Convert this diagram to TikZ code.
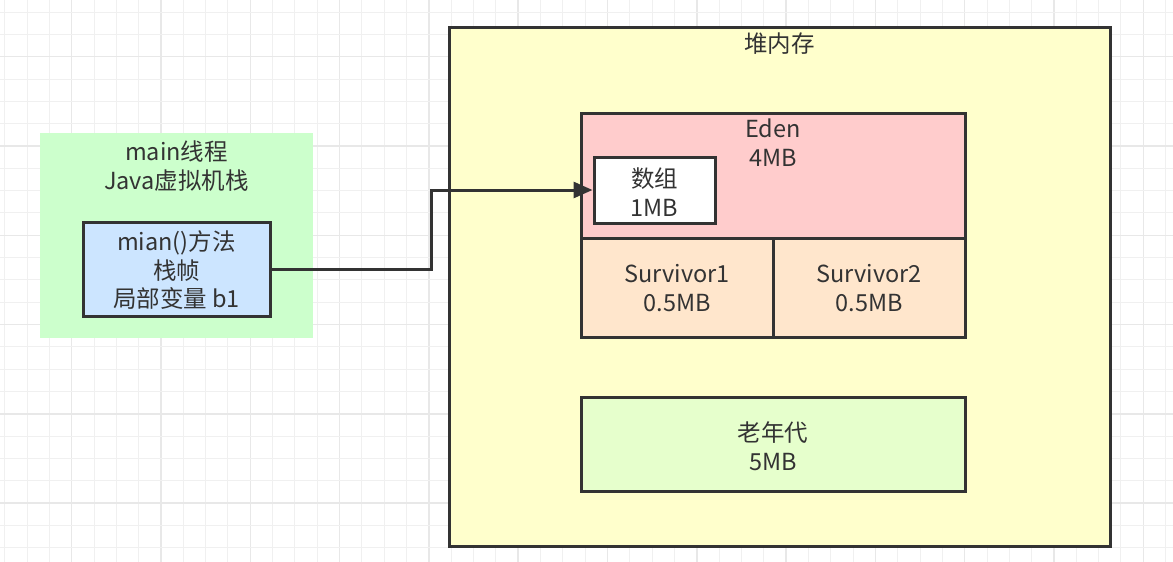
\documentclass[tikz,border=0pt]{standalone}
\usepackage{fontspec}
\setmainfont{Noto Sans CJK SC}
\usetikzlibrary{arrows.meta}
\definecolor{ink}{HTML}{333333}
\definecolor{gthin}{HTML}{F0F0F0}
\definecolor{gthick}{HTML}{E8E8E8}
\definecolor{stackgreen}{HTML}{CCFFCC}
\definecolor{frameblue}{HTML}{CCE5FF}
\definecolor{heapyellow}{HTML}{FFFFCC}
\definecolor{edenred}{HTML}{FFCCCC}
\definecolor{survorange}{HTML}{FFE6CC}
\definecolor{oldgreen}{HTML}{E6FFCC}
\tikzset{
  box/.style={draw=ink, line width=3pt, inner sep=0pt},
  lbl/.style={text=ink, align=center, font=\fontsize{23.5}{28.5}\selectfont, inner sep=0pt},
  conn/.style={draw=ink, line width=3pt, -{Triangle[length=19pt,width=16pt]}},
}
\begin{document}
\begin{tikzpicture}[x=1pt,y=-1pt]
\useasboundingbox (0,0) rectangle (1173,562);
\fill[white] (0,0) rectangle (1173,562);
% grid
\foreach \i in {0,...,52} {
  \pgfmathsetmacro{\gx}{4.7+22.325*\i}
  \pgfmathtruncatemacro{\m}{mod(\i,4)}
  \ifnum\m=3
    \draw[gthick, line width=1.5pt] (\gx,0) -- (\gx,562);
  \else
    \draw[gthin, line width=1pt] (\gx,0) -- (\gx,562);
  \fi
}
\foreach \j in {0,...,25} {
  \pgfmathsetmacro{\gy}{12.05+22.325*\j}
  \pgfmathtruncatemacro{\m}{mod(\j,4)}
  \ifnum\m=2
    \draw[gthick, line width=1.5pt] (0,\gy) -- (1173,\gy);
  \else
    \draw[gthin, line width=1pt] (0,\gy) -- (1173,\gy);
  \fi
}
% stack
\node[fill=stackgreen, draw=none, minimum width=273pt, minimum height=205pt, inner sep=0pt] (stack) at (176.5,235.5) {};
\node[lbl] (stacklbl) at (176.5,166) {main线程\\Java虚拟机栈};
\node[box, fill=frameblue, minimum width=187pt, minimum height=94pt] (frame) at (176.5,269) {};
\node[lbl] (framelbl) at (176.5,270.5) {mian()方法\\栈帧\\局部变量 b1};
% heap
\node[box, fill=heapyellow, minimum width=661pt, minimum height=519pt] (heap) at (779.5,286.5) {};
\node[lbl] (heaplbl) at (779.5,44) {堆内存};
\node[box, fill=edenred, minimum width=384pt, minimum height=125pt] (eden) at (773,175.5) {};
\node[lbl] (edenlbl) at (773,142.5) {Eden\\4MB};
\node[box, fill=white, minimum width=121pt, minimum height=66pt] (arr) at (654.5,190) {};
\node[lbl] (arrlbl) at (654.5,192) {数组\\1MB};
\node[box, fill=survorange, minimum width=192pt, minimum height=99pt] (s1) at (677,287.5) {};
\node[lbl] (s1lbl) at (677,288) {Survivor1\\0.5MB};
\node[box, fill=survorange, minimum width=192pt, minimum height=99pt] (s2) at (869,287.5) {};
\node[lbl] (s2lbl) at (869,288) {Survivor2\\0.5MB};
\node[box, fill=oldgreen, minimum width=384pt, minimum height=94pt] (old) at (773,444) {};
\node[lbl] (oldlbl) at (773,446) {老年代\\5MB};
% connector
\coordinate (bend) at (431,269);
\draw[conn] (frame.east) -- (bend) |- (arr.west);
\end{tikzpicture}
\end{document}
